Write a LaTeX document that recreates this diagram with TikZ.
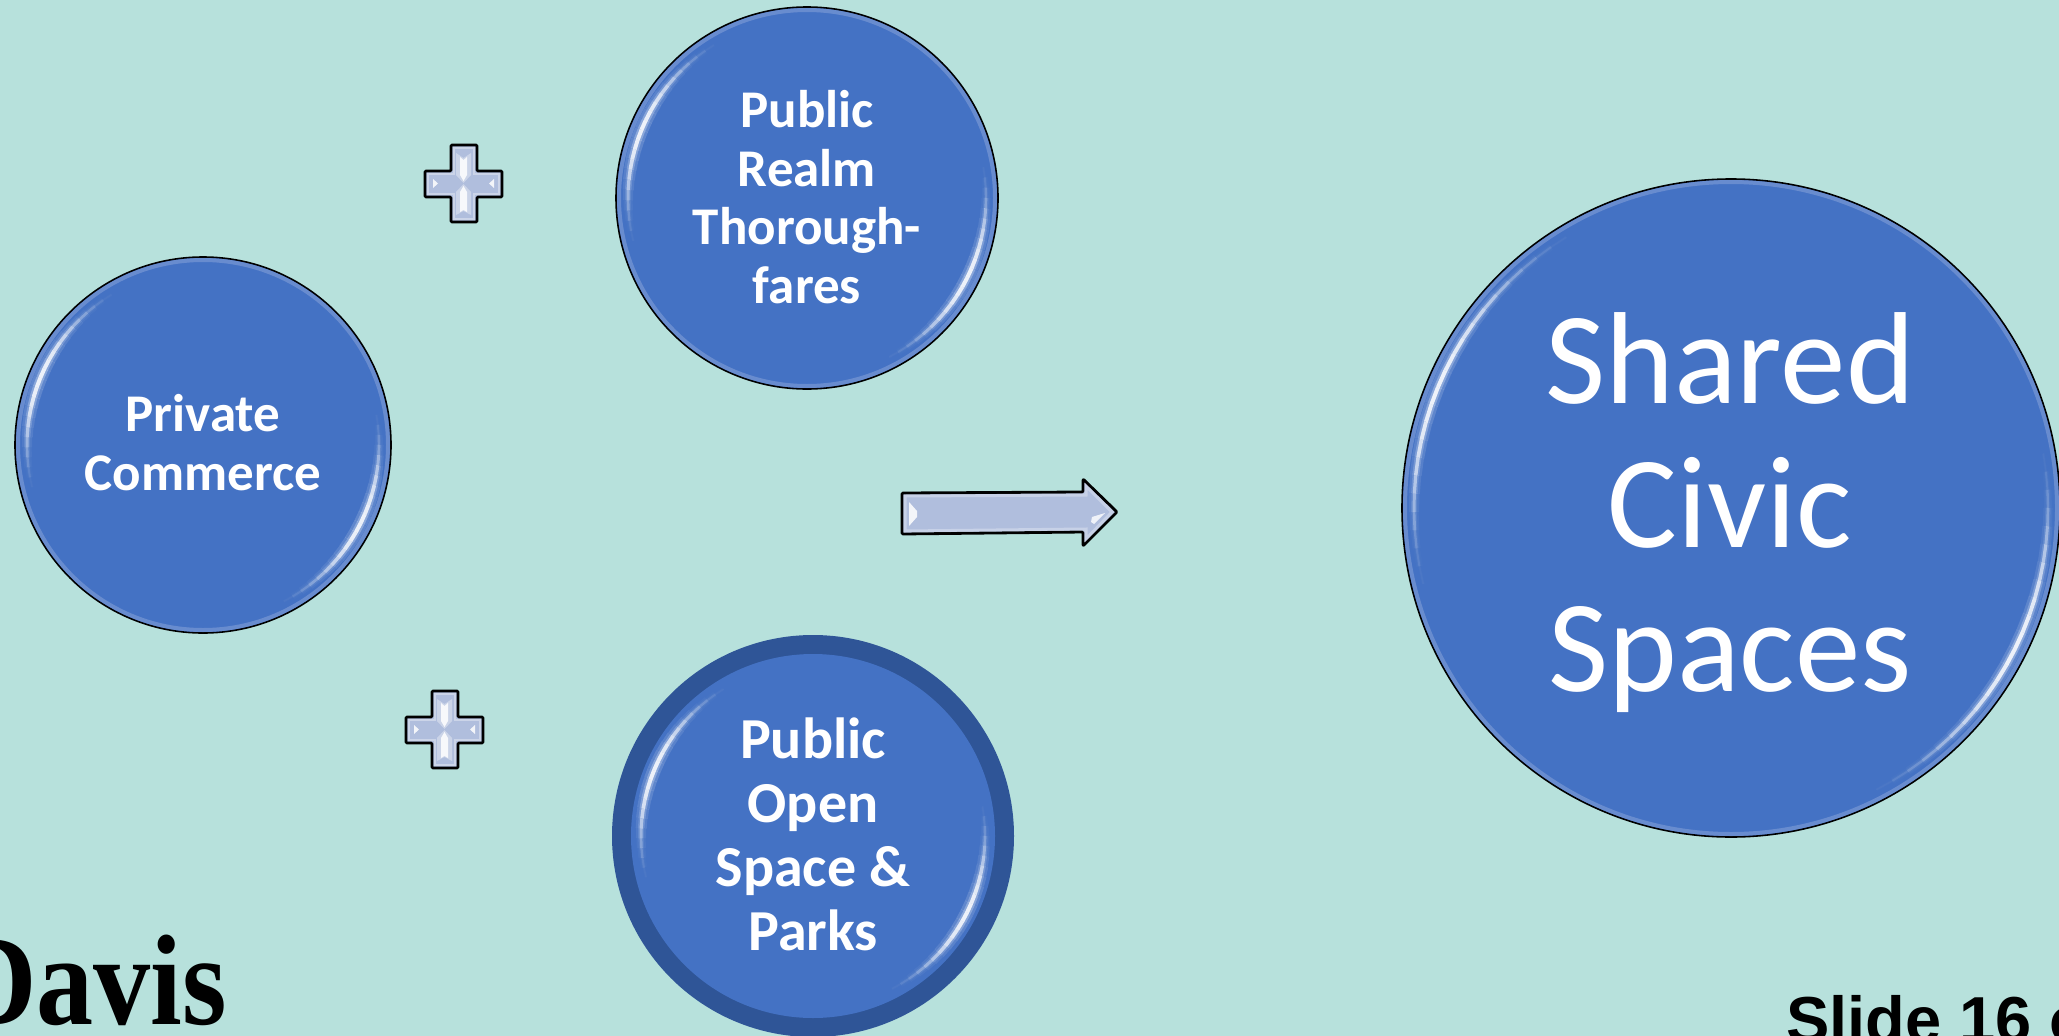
\documentclass[tikz,border=0pt]{standalone}
\usepackage{fontspec}
\setmainfont{Carlito}
\newfontfamily\armo{Liberation Sans}
\newfontfamily\tims{Liberation Serif}
\definecolor{bgc}{RGB}{183,225,220}
\definecolor{bubc}{RGB}{68,114,196}
\definecolor{ringc}{RGB}{47,85,151}
\definecolor{shapec}{RGB}{176,190,221}
\definecolor{rimc}{RGB}{150,172,222}
\tikzset{
  x=1pt,y=-1pt,
  bubble/.style={circle,fill=bubc,draw=black,line width=1.6pt,inner sep=0pt,text=white,align=center},
  lbl/.style={text=white,align=center,inner sep=0pt},
  smalltext/.style={font=\bfseries\fontsize{53}{58.5}\selectfont},
  opentext/.style={font=\bfseries\fontsize{58}{64}\selectfont},
  bigtext/.style={font=\fontsize{131}{144}\selectfont},
  glassy/.style={fill=shapec,draw=black,line width=2.8pt,line join=round},
  glint/.style={fill=white,draw=none},
}
% soft highlights of a bubble: centre x, y, radius
\newcommand{\glints}[3]{%
  \foreach \seg in {0,...,23}{%
    \pgfmathsetmacro{\sv}{sin(7.5*(\seg+.5))}
    \pgfmathsetmacro{\op}{0.95*\sv^2}
    \pgfmathsetmacro{\wa}{1+3*\sv}
    \pgfmathsetmacro{\wb}{2*\wa}
    \pgfmathsetmacro{\wc}{3.4*\wa}
    \pgfmathsetmacro{\aa}{118+3.3*\seg}
    \pgfmathsetmacro{\ab}{\aa+3.3}
    \pgfmathsetmacro{\ac}{-66+3.3*\seg}
    \pgfmathsetmacro{\ad}{\ac+3.3}
    \foreach \st/\sb/\wv/\ov in {\aa/\ab/\wc/.16,\aa/\ab/\wb/.28,\aa/\ab/\wa/.9,\ac/\ad/\wc/.16,\ac/\ad/\wb/.28,\ac/\ad/\wa/.9}{%
      \pgfmathsetmacro{\fo}{\op*\ov}
      \draw[white,opacity=\fo,line width=\wv pt,line cap=butt]
        ({#1+(#3-12)*cos(\st)},{#2-(#3-12)*sin(\st)}) -- ({#1+(#3-12)*cos(\sb)},{#2-(#3-12)*sin(\sb)});
    }%
  }%
}
\newcommand{\gloss}[3]{%
  \draw[rimc,line width=4pt,opacity=.45] (#1,#2) circle[radius=#3-3];
  \glints{#1}{#2}{#3}%
}
% cross: name, left x, top y
\newcommand{\crossmark}[3]{%
  \begin{scope}[shift={(#2,#3)}]
    \path[glassy,rounded corners=1pt] (26,0) -- (52,0) -- (52,26) -- (77,26) -- (77,52) -- (52,52) -- (52,77) -- (26,77) -- (26,52) -- (0,52) -- (0,26) -- (26,26) -- cycle;
    \path[draw=white,opacity=.35,line width=2pt] (29,3) -- (49,3) -- (49,29) -- (74,29) -- (74,49) -- (49,49) -- (49,74) -- (29,74) -- (29,49) -- (3,49) -- (3,29) -- (29,29) -- cycle;
    \node[#1,inner sep=0pt,minimum size=0pt] at (38.5,38.5) {};
    \path[fill=white,opacity=.35] (31,8) -- (38.5,13) -- (46,8) -- (46,30) -- (38.5,38) -- (31,30) -- cycle;
    \path[fill=white,opacity=.35] (31,70) -- (38.5,66) -- (46,70) -- (46,47) -- (38.5,39) -- (31,47) -- cycle;
    \path[fill=white,opacity=.85] (35,12) -- (38.5,15) -- (42,12) -- (42,30) -- (38.5,36) -- (35,30) -- cycle;
    \path[fill=white,opacity=.85] (35,67) -- (38.5,65) -- (42,67) -- (42,47) -- (38.5,41) -- (35,47) -- cycle;
    \path[glint,opacity=.85] (8,34) -- (13,38.5) -- (8,43) -- cycle;
    \path[glint,opacity=.85] (69,34) -- (64,38.5) -- (69,43) -- cycle;
  \end{scope}%
}
\begin{document}
\begin{tikzpicture}
\useasboundingbox (0,0) rectangle (2059,1036);
\clip (0,0) rectangle (2059,1036);
\fill[bgc] (0,0) rectangle (2059,1036);

\node[bubble,minimum size=376pt] (private) at (203,445) {};
\gloss{203}{445}{188}
\node[lbl,smalltext] (privatetext) at (203,442.5) {Private\\Commerce};
\node[bubble,minimum size=382pt] (realm) at (807,198) {};
\gloss{807}{198}{191}
\node[lbl,smalltext] (realmtext) at (807,197) {Public\\Realm\\Thorough-\\fares};
\node[circle,fill=ringc,draw=none,minimum size=402pt,inner sep=0pt] (openring) at (813,836) {};
\node[circle,fill=bubc,draw=none,minimum size=364pt,inner sep=0pt] (open) at (813,836) {};
\glints{813}{836}{184}
\node[lbl,opentext] (opentextnode) at (813,834) {Public\\Open\\Space \&\\Parks};
\node[bubble,minimum size=658pt] (shared) at (1731,508) {};
\gloss{1731}{508}{329}
\node[lbl,bigtext] (sharedtext) at (1730,513) {Shared\\Civic\\Spaces};

\crossmark{name=plusone}{425}{145}
\crossmark{name=plustwo}{406}{691}

\path[glassy,rounded corners=1pt] (902,493) -- (1083,492) -- (1083,479) -- (1117,512) -- (1083,546) -- (1083,532) -- (902,534) -- cycle;
\path[draw=white,opacity=.3,line width=3pt] (905,496) -- (1086,495) -- (1086,486) -- (1112,512) -- (1086,539) -- (1086,529) -- (905,531) -- cycle;
\path[glint,opacity=.85] (909,502) -- (917,511) -- (917,517) -- (909,526) -- cycle;
\path[glint,opacity=.8] (1092,517) -- (1105,513) -- (1094,524) -- (1091,522) -- cycle;

\node[anchor=base west,inner sep=0pt,text=black,font=\tims\bfseries\fontsize{129}{129}\selectfont,xscale=.885] (davis) at (-46,1024) {Davis};
\node[anchor=base west,inner sep=0pt,text=black,font=\armo\bfseries\fontsize{65}{65}\selectfont] (slide) at (1786,1042) {Slide 16 o};
\end{tikzpicture}
\end{document}
